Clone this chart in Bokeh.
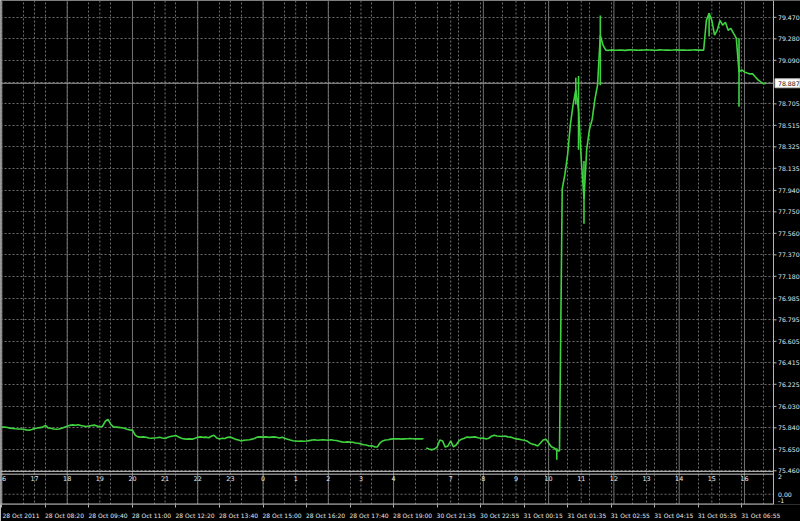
from bokeh.plotting import figure
from bokeh.models import Range1d, FixedTicker, Span
from bokeh.core.properties import value
from bokeh.embed import file_html
from bokeh.resources import INLINE

# ---------------- data (USDJPY M5) ----------------
close_friday = [
    75.846, 75.846, 75.843, 75.837, 75.835, 75.832, 75.830, 75.829, 75.828, 75.822,
    75.818, 75.826, 75.835, 75.838, 75.842, 75.846, 75.862, 75.838, 75.836, 75.830,
    75.828, 75.830, 75.836, 75.846, 75.854, 75.862, 75.866, 75.862, 75.868, 75.860,
    75.856, 75.852, 75.855, 75.860, 75.864, 75.857, 75.848, 75.854, 75.898, 75.915,
    75.872, 75.848, 75.846, 75.844, 75.840, 75.836, 75.828, 75.822, 75.820, 75.776,
    75.760, 75.758, 75.760, 75.756, 75.750, 75.748, 75.750, 75.752, 75.756, 75.750,
    75.746, 75.756, 75.764, 75.768, 75.772, 75.758, 75.748, 75.742, 75.740, 75.742,
    75.740, 75.748, 75.756, 75.760, 75.756, 75.758, 75.752, 75.766, 75.774, 75.750,
    75.742, 75.748, 75.746, 75.756, 75.758, 75.748, 75.738, 75.732, 75.724, 75.730,
    75.732, 75.734, 75.740, 75.748, 75.758, 75.760, 75.758, 75.760, 75.756, 75.758,
    75.760, 75.756, 75.750, 75.756, 75.748, 75.740, 75.732, 75.726, 75.724, 75.722,
    75.724, 75.722, 75.724, 75.727, 75.732, 75.734, 75.730, 75.732, 75.734, 75.732,
    75.730, 75.734, 75.730, 75.728, 75.722, 75.716, 75.712, 75.716, 75.714, 75.712,
    75.706, 75.704, 75.698, 75.690, 75.688, 75.680, 75.682, 75.672, 75.670, 75.706,
    75.724, 75.732, 75.734, 75.740, 75.742, 75.742, 75.744, 75.740, 75.742, 75.744,
    75.746, 75.744, 75.742, 75.744, 75.742, 75.744,
]
close_monday = [
    75.662, 75.653, 75.645, 75.652, 75.670, 75.732, 75.724, 75.670, 75.680, 75.724,
    75.672, 75.688, 75.724, 75.740, 75.748, 75.758, 75.756, 75.758, 75.760, 75.752,
    75.748, 75.750, 75.742, 75.748, 75.766, 75.774, 75.768, 75.766, 75.764, 75.768,
    75.760, 75.758, 75.750, 75.742, 75.740, 75.734, 75.730, 75.724, 75.706, 75.696,
    75.690, 75.680, 75.706, 75.732, 75.740, 75.706, 75.672, 75.662, 75.640, 75.636,
    77.952, 78.083, 78.259, 78.522, 78.698, 78.829, 78.654, 78.215, 77.864, 78.303,
    78.478, 78.566, 78.742, 78.873, 79.312, 79.224, 79.180,
    79.178, 79.182, 79.180, 79.179, 79.181, 79.180, 79.178, 79.180, 79.182, 79.181,
    79.180, 79.179, 79.180, 79.181, 79.183, 79.181, 79.180, 79.179, 79.180, 79.182,
    79.181, 79.180, 79.180, 79.179, 79.181, 79.182, 79.180, 79.181, 79.180, 79.179,
    79.180, 79.181, 79.182, 79.180, 79.181, 79.180,
    79.443, 79.505, 79.443, 79.312, 79.356, 79.443, 79.400, 79.426, 79.356, 79.373,
    79.329, 79.286, 78.987, 79.005, 78.987, 78.978, 78.970, 78.970, 78.943, 78.917,
    78.899, 78.882, 78.887,
]
monday_first_bar = 156

spike_bar = [204, 211, 212, 214, 220, 260, 271]
spike_low = [75.557, 78.700, 78.300, 77.645, 78.870, 79.300, 78.680]
spike_high = [75.660, 78.935, 78.952, 78.200, 79.487, 79.505, 79.286]

price_ticks = [79.470, 79.280, 79.090, 78.705, 78.515, 78.325, 78.135, 77.940,
               77.750, 77.560, 77.370, 77.180, 76.985, 76.795, 76.605, 76.415,
               76.225, 76.030, 75.840, 75.650, 75.460]
hidden_grid_price = [78.895]
current_price = 78.887

date_bars = [0, 16, 32, 48, 64, 80, 96, 112, 128, 144, 160, 176, 192, 208, 224, 240, 256, 272]
date_labels = ["28 Oct 2011", "28 Oct 08:20", "28 Oct 09:40", "28 Oct 11:00", "28 Oct 12:20",
               "28 Oct 13:40", "28 Oct 15:00", "28 Oct 16:20", "28 Oct 17:40", "28 Oct 19:00",
               "30 Oct 21:35", "30 Oct 22:55", "31 Oct 00:15", "31 Oct 01:35", "31 Oct 02:55",
               "31 Oct 04:15", "31 Oct 05:35", "31 Oct 06:55"]

hour_bars = [0, 12, 24, 36, 48, 60, 72, 84, 96, 108, 120, 132, 144,
             165, 177, 189, 201, 213, 225, 237, 249, 261, 273]
hour_labels = ["16", "17", "18", "19", "20", "21", "22", "23", "0", "1", "2", "3", "4",
               "7", "8", "9", "10", "11", "12", "13", "14", "15", "16"]

sub_labels = ["2", "0.00", "-1"]
sub_label_at = [1.71, 0.0, -0.61]

# ---------------- styling / layout ----------------
W, H = 800, 521
FRAME_H = 508
GREEN = "#3fd43f"
GRID = "#6c6c6c"
BORDER = "#b4b4b4"
TXT = "#e8e8e8"
FONT = "DejaVu Sans"
PX_PER_BAR = 2.72
X0 = -1.4 / PX_PER_BAR               # left edge of the chart
XR = X0 + W / PX_PER_BAR             # right edge of the picture
X1 = X0 + 773 / PX_PER_BAR           # right border of the chart (price scale starts)
P0, P1 = 75.162, 79.619
S0, S1 = -1.0, 48.18
PX_PER_PRICE = FRAME_H / (P1 - P0)
PX_PER_SUB = FRAME_H / (S1 - S0)

p = figure(width=W, height=H, output_backend="svg", toolbar_location=None,
           x_range=Range1d(X0, XR), y_range=Range1d(P0, P1), y_axis_location=None,
           background_fill_color="black", border_fill_color="black",
           min_border_left=0, min_border_top=0, min_border_right=0, min_border_bottom=13)
p.extra_y_ranges = {"sub": Range1d(S0, S1)}
p.outline_line_color = None

# grids
p.xgrid.ticker = FixedTicker(ticks=list(range(0, 284, 8)))
p.ygrid.ticker = FixedTicker(ticks=price_ticks + hidden_grid_price)
for g in (p.xgrid, p.ygrid):
    g.grid_line_color = GRID
    g.grid_line_dash = "2 2"
    g.grid_line_width = 1

# date axis (below), labels start at their bar
LABEL_SHIFT = 7.0
xax = p.xaxis[0]
major = [b + LABEL_SHIFT for b in date_bars]
xax.ticker = FixedTicker(ticks=major, minor_ticks=date_bars)
xax.major_label_overrides = {m: t for m, t in zip(major, date_labels)}
xax.axis_line_color = None
xax.major_tick_line_color = None
xax.major_tick_out = 0
xax.major_tick_in = 0
xax.minor_tick_line_color = BORDER
xax.minor_tick_out = 3
xax.minor_tick_in = 0
xax.major_label_standoff = 4
xax.major_label_text_color = TXT
xax.major_label_text_font = FONT
xax.major_label_text_font_size = "6px"

# hour separators of the indicator
for b, h in zip(hour_bars, hour_labels):
    solid = int(h) % 2 == 0
    p.add_layout(Span(location=b, dimension="height", line_color="#737373", line_width=1,
                      line_dash="solid" if solid else "2 2", level="underlay"))

# sub window lines
p.add_layout(Span(location=0, dimension="width", y_range_name="sub", line_color=GRID,
                  line_dash="2 2", line_width=1, level="underlay"))
p.add_layout(Span(location=75.455, dimension="width", line_color="#c8c8c8", line_width=1,
                  level="underlay"))
p.add_layout(Span(location=1.96, dimension="width", y_range_name="sub", line_color="#c8c8c8",
                  line_width=1, level="underlay"))

# current price line
p.add_layout(Span(location=current_price, dimension="width", line_color="#9a9a9a",
                  line_width=1, level="underlay"))

# price series
p.line(list(range(len(close_friday))), close_friday, line_color=GREEN, line_width=1.6)
p.line(list(range(monday_first_bar, monday_first_bar + len(close_monday))), close_monday,
       line_color=GREEN, line_width=1.6)
p.segment(spike_bar, spike_low, spike_bar, spike_high, line_color=GREEN, line_width=1.6)

# hour labels in the sub window
p.text(x=hour_bars, y=[1.56] * len(hour_bars), text=hour_labels, y_range_name="sub",
       text_align="center", text_baseline="middle", text_color=TXT,
       text_font=value(FONT), text_font_size="6.4px")

# ---- price scale column (right) ----
p.quad(left=[X1], right=[XR], bottom=[P0], top=[P1], fill_color="black", line_color=None)
tick_len = 3 / PX_PER_BAR
lab_x = X1 + 4.5 / PX_PER_BAR
p.segment(x0=[X1] * len(price_ticks), y0=price_ticks, x1=[X1 + tick_len] * len(price_ticks),
          y1=price_ticks, line_color=BORDER, line_width=1)
p.text(x=[lab_x] * len(price_ticks), y=price_ticks, text=[f"{v:.3f}" for v in price_ticks],
       text_align="left", text_baseline="middle", text_color=TXT,
       text_font=value(FONT), text_font_size="6.2px")
p.text(x=[lab_x] * len(sub_labels), y=sub_label_at, text=sub_labels, y_range_name="sub",
       text_align="left", text_baseline="middle", text_color=TXT,
       text_font=value(FONT), text_font_size="6.2px")

# current price tag
half = 4.5 / PX_PER_PRICE
p.quad(left=[X1 + 1.5 / PX_PER_BAR], right=[XR - 0.5 / PX_PER_BAR],
       bottom=[current_price - half], top=[current_price + half],
       fill_color="white", line_color="#c0c0c0")
p.text(x=[lab_x], y=[current_price], text=[f"{current_price:.3f}"], text_align="left",
       text_baseline="middle", text_color="black", text_font=value(FONT),
       text_font_size="6.2px")

# chart borders
p.add_layout(Span(location=X1, dimension="height", line_color=BORDER, line_width=1,
                  level="overlay"))
p.add_layout(Span(location=X0, dimension="height", line_color=BORDER, line_width=2,
                  level="overlay"))
p.segment(x0=[X0], y0=[S0], x1=[X1], y1=[S0], y_range_name="sub", line_color=BORDER,
          line_width=2)

open("out.html", "w").write(file_html(p, INLINE))
